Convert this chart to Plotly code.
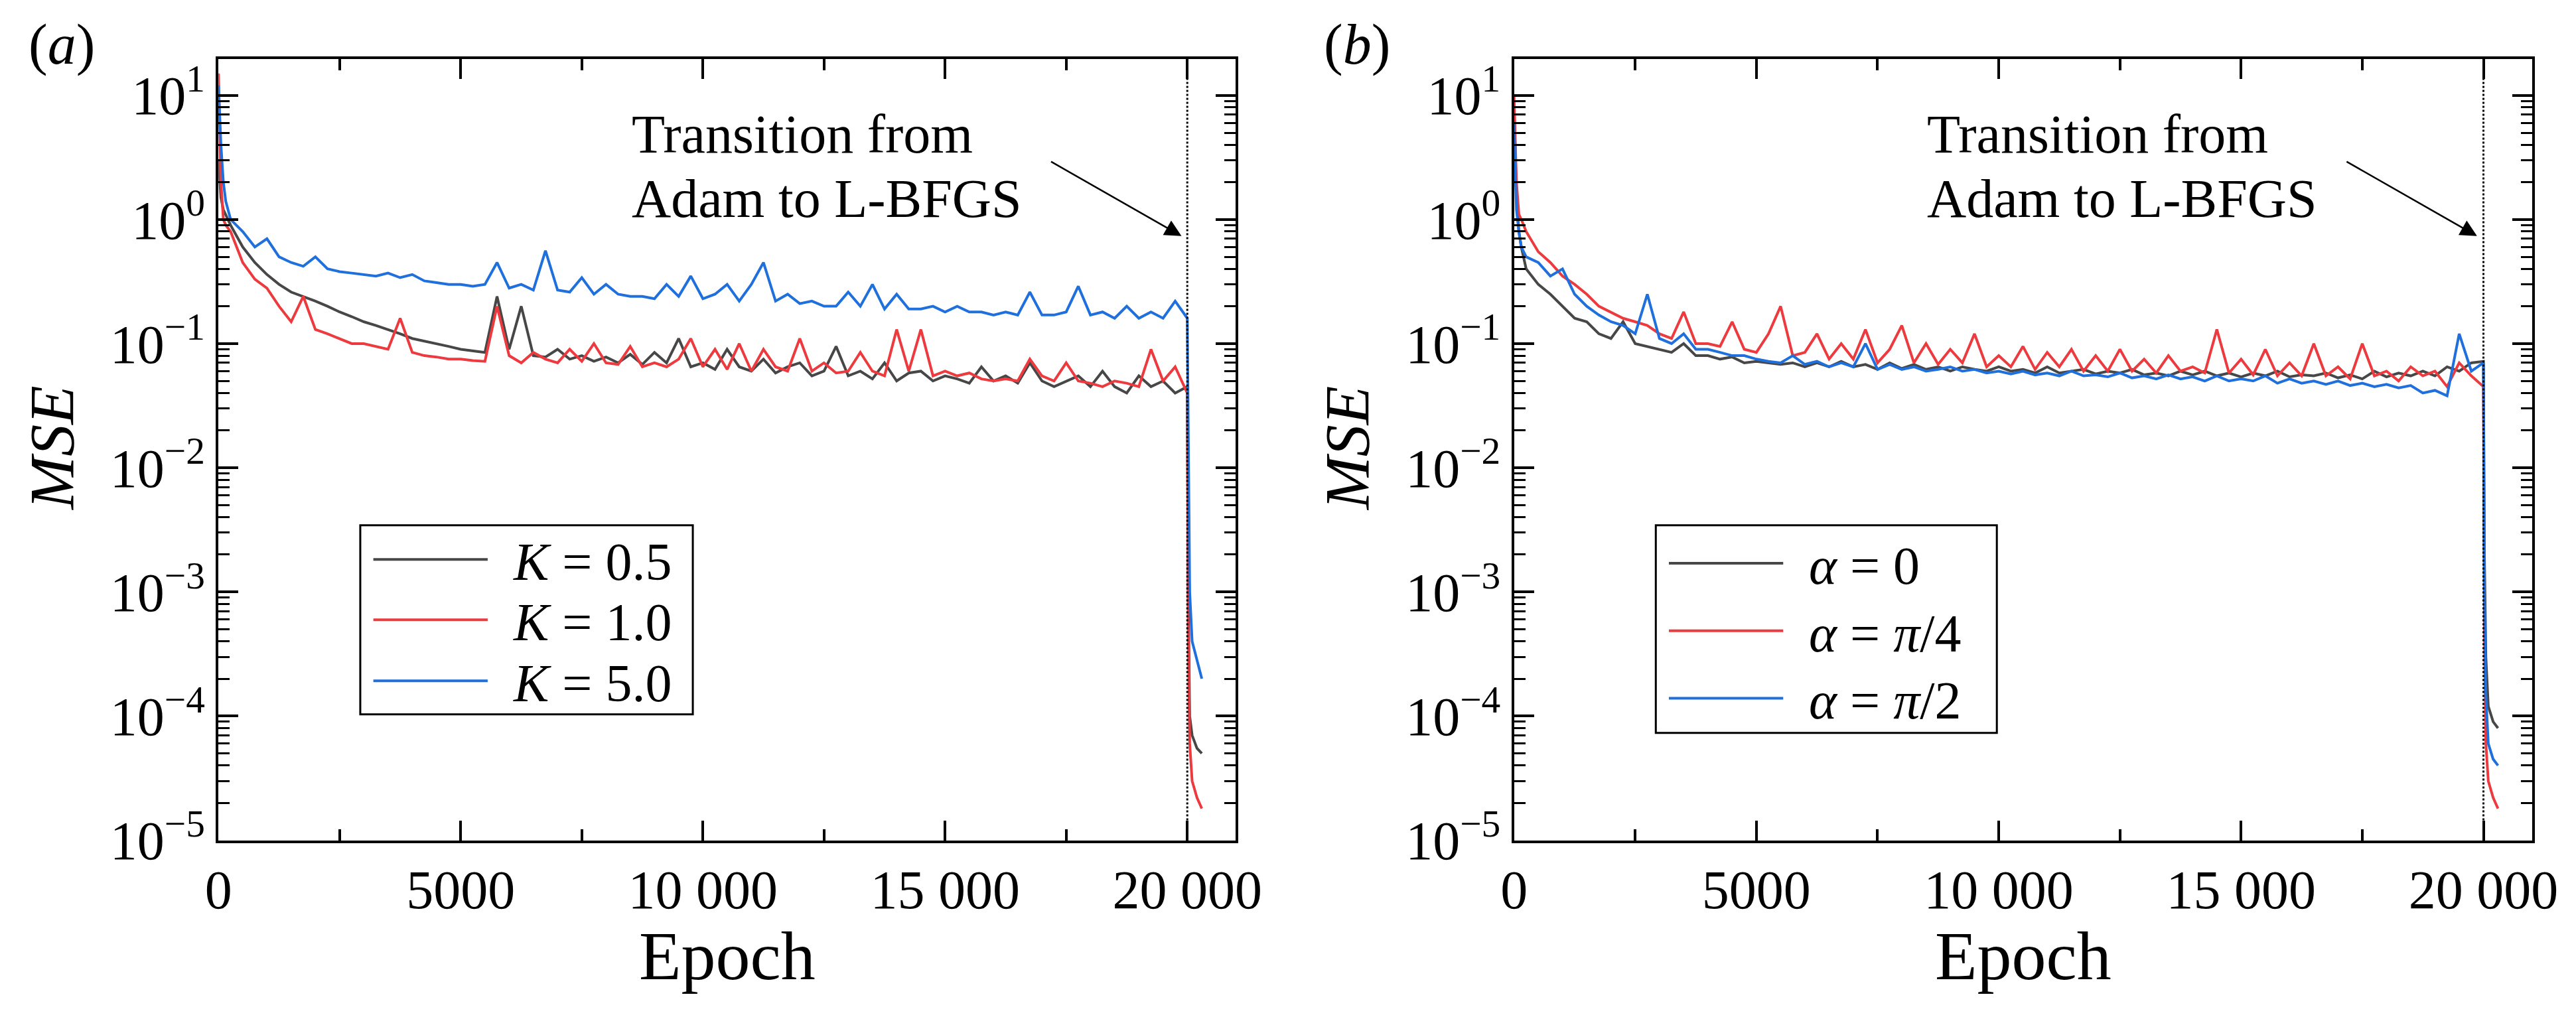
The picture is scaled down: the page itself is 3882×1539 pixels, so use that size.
import plotly.graph_objects as go
from plotly.subplots import make_subplots

# epochs: a few early points, then every 250 up to 20000, then the L-BFGS tail
early = [0, 50, 100, 150]
adam = list(range(250, 20001, 250))
tail = [20020, 20050, 20100, 20200, 20300]
epochs = early + adam + tail

# panel (a)
k05 = [3, 1.5, 1.2, 1.1,
       0.9, 0.6, 0.45, 0.36, 0.3, 0.26, 0.24, 0.22, 0.2, 0.18, 0.165, 0.15, 0.14, 0.13, 0.12, 0.11,
       0.105, 0.1, 0.095, 0.09, 0.088, 0.085, 0.24, 0.09, 0.2, 0.08, 0.078, 0.09, 0.075, 0.08,
       0.072, 0.078, 0.07, 0.082, 0.068, 0.085, 0.07, 0.11, 0.065, 0.07, 0.062, 0.09, 0.065, 0.06,
       0.075, 0.058, 0.065, 0.07, 0.055, 0.06, 0.095, 0.055, 0.06, 0.052, 0.07, 0.05, 0.058, 0.06,
       0.05, 0.055, 0.052, 0.048, 0.065, 0.05, 0.055, 0.048, 0.07, 0.05, 0.045, 0.05, 0.055, 0.045,
       0.06, 0.045, 0.04, 0.055, 0.045, 0.05, 0.04, 0.045,
       1e-3, 1e-4, 7e-5, 5.5e-5, 5e-5]
k10 = [15, 2, 1.0, 0.9,
       0.8, 0.45, 0.33, 0.28, 0.2, 0.15, 0.24, 0.13, 0.12, 0.11, 0.1, 0.1, 0.095, 0.09, 0.16, 0.085,
       0.08, 0.078, 0.075, 0.075, 0.073, 0.072, 0.2, 0.08, 0.07, 0.085, 0.075, 0.07, 0.09, 0.072,
       0.1, 0.07, 0.068, 0.095, 0.065, 0.07, 0.065, 0.075, 0.11, 0.065, 0.09, 0.062, 0.1, 0.06,
       0.09, 0.065, 0.06, 0.11, 0.06, 0.07, 0.058, 0.06, 0.085, 0.06, 0.055, 0.13, 0.06, 0.13,
       0.055, 0.06, 0.055, 0.058, 0.052, 0.05, 0.052, 0.05, 0.075, 0.055, 0.05, 0.07, 0.05, 0.048,
       0.045, 0.05, 0.048, 0.045, 0.09, 0.05, 0.065, 0.04,
       5e-4, 6e-5, 3e-5, 2.2e-5, 1.8e-5]
k50 = [12, 4, 2, 1.4,
       1.0, 0.8, 0.6, 0.7, 0.5, 0.45, 0.42, 0.5, 0.4, 0.38, 0.37, 0.36, 0.35, 0.37, 0.34, 0.36,
       0.32, 0.31, 0.3, 0.3, 0.29, 0.3, 0.45, 0.28, 0.3, 0.27, 0.56, 0.27, 0.26, 0.34, 0.25, 0.3,
       0.25, 0.24, 0.24, 0.23, 0.3, 0.24, 0.35, 0.23, 0.25, 0.3, 0.22, 0.3, 0.45, 0.22, 0.25, 0.21,
       0.22, 0.2, 0.2, 0.26, 0.2, 0.3, 0.19, 0.25, 0.19, 0.19, 0.2, 0.18, 0.2, 0.18, 0.18, 0.17,
       0.18, 0.17, 0.26, 0.17, 0.17, 0.18, 0.29, 0.17, 0.18, 0.16, 0.2, 0.16, 0.18, 0.16, 0.22, 0.16,
       1e-2, 1e-3, 4e-4, 2.8e-4, 2e-4]

# panel (b)
a0 = [8, 1.5, 0.8, 0.6,
      0.4, 0.3, 0.25, 0.2, 0.16, 0.15, 0.12, 0.11, 0.15, 0.1, 0.095, 0.09, 0.085, 0.1, 0.08, 0.08,
      0.075, 0.078, 0.07, 0.072, 0.07, 0.068, 0.07, 0.065, 0.07, 0.065, 0.072, 0.065, 0.068, 0.062,
      0.07, 0.063, 0.068, 0.062, 0.065, 0.06, 0.065, 0.062, 0.06, 0.065, 0.06, 0.062, 0.058, 0.065,
      0.058, 0.06, 0.062, 0.057, 0.06, 0.058, 0.062, 0.056, 0.058, 0.055, 0.06, 0.056, 0.06, 0.055,
      0.058, 0.054, 0.058, 0.055, 0.06, 0.054, 0.056, 0.055, 0.058, 0.053, 0.056, 0.052, 0.06, 0.054,
      0.058, 0.055, 0.06, 0.055, 0.065, 0.06, 0.07, 0.072,
      2e-3, 3e-4, 1.2e-4, 9e-5, 8e-5]
a_pi4 = [10, 2, 1.1, 1.0,
         0.8, 0.55, 0.45, 0.35, 0.3, 0.25, 0.2, 0.18, 0.16, 0.15, 0.14, 0.12, 0.11, 0.18, 0.1, 0.1,
         0.095, 0.15, 0.09, 0.085, 0.12, 0.2, 0.08, 0.085, 0.12, 0.075, 0.1, 0.075, 0.13, 0.07,
         0.09, 0.14, 0.07, 0.1, 0.068, 0.09, 0.07, 0.12, 0.065, 0.08, 0.065, 0.095, 0.062, 0.085,
         0.065, 0.09, 0.06, 0.08, 0.06, 0.09, 0.06, 0.075, 0.058, 0.08, 0.06, 0.065, 0.058, 0.13,
         0.058, 0.075, 0.056, 0.09, 0.055, 0.07, 0.055, 0.1, 0.055, 0.065, 0.052, 0.1, 0.055, 0.06,
         0.05, 0.065, 0.055, 0.06, 0.045, 0.07, 0.055, 0.045,
         5e-4, 6e-5, 3e-5, 2.2e-5, 1.8e-5]
a_pi2 = [6, 1.2, 0.8, 0.6,
         0.5, 0.45, 0.35, 0.4, 0.25, 0.2, 0.17, 0.15, 0.14, 0.12, 0.25, 0.11, 0.1, 0.12, 0.09, 0.09,
         0.085, 0.08, 0.08, 0.075, 0.072, 0.07, 0.08, 0.068, 0.072, 0.065, 0.07, 0.065, 0.1, 0.062,
         0.068, 0.062, 0.065, 0.06, 0.062, 0.065, 0.06, 0.062, 0.058, 0.06, 0.057, 0.06, 0.056, 0.058,
         0.055, 0.06, 0.055, 0.056, 0.054, 0.058, 0.053, 0.055, 0.052, 0.056, 0.052, 0.054, 0.05, 0.055,
         0.05, 0.052, 0.05, 0.055, 0.048, 0.052, 0.048, 0.05, 0.047, 0.05, 0.046, 0.048, 0.045, 0.047,
         0.044, 0.046, 0.04, 0.042, 0.038, 0.12, 0.06, 0.07,
         1e-3, 1.5e-4, 6e-5, 4.5e-5, 4e-5]

names_a = ["<i>K</i> = 0.5", "<i>K</i> = 1.0", "<i>K</i> = 5.0"]
names_b = ["<i>α</i> = 0", "<i>α</i> = <i>π</i>/4", "<i>α</i> = <i>π</i>/2"]
colors = ["#474747", "#ec3a3f", "#1f6fdc"]

FONT = "Liberation Serif, Times New Roman, serif"
W, H = 3882, 1539


def px(x):
    return x / W


def py(y):
    return 1 - y / H


fig = make_subplots(rows=1, cols=2)

for ys, nm, c in zip([k05, k10, k50], names_a, colors):
    fig.add_trace(go.Scatter(x=epochs, y=ys, name=nm, mode="lines", showlegend=False,
                             line=dict(color=c, width=4)), row=1, col=1)
for ys, nm, c in zip([a0, a_pi4, a_pi2], names_b, colors):
    fig.add_trace(go.Scatter(x=epochs, y=ys, name=nm, mode="lines", showlegend=False,
                             line=dict(color=c, width=4)), row=1, col=2)

ytv = [10.0 ** k for k in range(-5, 2)]
ytt = ["10<sup>%s</sup>" % (str(k).replace("-", "−")) for k in range(-5, 2)]
yminor = [m * 10.0 ** k for k in range(-6, 2) for m in range(2, 10)]

axis_common = dict(showline=True, linecolor="black", linewidth=4, mirror="allticks",
                   ticks="inside", ticklen=30, tickwidth=4, tickcolor="black",
                   showgrid=False, zeroline=False,
                   tickfont=dict(family=FONT, size=82, color="black"))

for col, dom in [(1, [px(305), px(1862)]), (2, [px(2288), px(3846)])]:
    fig.update_xaxes(axis_common, range=[0, 21000], domain=dom,
                     tickvals=[0, 5000, 10000, 15000, 20000],
                     ticktext=["0", "5000", "10 000", "15 000", "20 000"],
                     minor=dict(tickvals=[2500, 7500, 12500, 17500], ticks="inside",
                                ticklen=17, tickwidth=4, tickcolor="black"),
                     row=1, col=col)
    fig.update_yaxes(axis_common, type="log", range=[-5, 1.29], domain=[py(1298), py(83)],
                     tickvals=ytv, ticktext=ytt,
                     minor=dict(tickvals=yminor, ticks="inside",
                                ticklen=17, tickwidth=3, tickcolor="black"),
                     row=1, col=col)

    fig.add_shape(type="line", x0=20000, x1=20000, y0=0, y1=1,
                  xref="x" if col == 1 else "x2",
                  yref="y domain" if col == 1 else "y2 domain",
                  line=dict(color="black", width=3, dash="dot"))

off = 1983
legend_rows = [[861, 955, 1050], [867, 972, 1077]]
legend_box = [(522, 808, 1031, 1102), (2505, 808, 3027, 1131)]
for i, (lab, names) in enumerate([("(<i>a</i>)", names_a), ("(<i>b</i>)", names_b)]):
    dx = off * i
    fig.add_annotation(x=px(12 + dx), y=py(8), xref="paper", yref="paper", text=lab,
                       showarrow=False, xanchor="left", yanchor="top",
                       font=dict(family=FONT, size=86, color="black"))
    fig.add_annotation(x=px(1084 + dx), y=py(1478), xref="paper", yref="paper", text="Epoch",
                       showarrow=False, xanchor="center", yanchor="middle",
                       font=dict(family=FONT, size=104, color="black"))
    fig.add_annotation(x=px(50 + dx), y=py(688), xref="paper", yref="paper", text="<i>MSE</i>",
                       showarrow=False, textangle=-90, xanchor="center", yanchor="middle",
                       font=dict(family=FONT, size=96, color="black"))
    for txt, yy in [("Transition from", 200), ("Adam to L-BFGS", 300)]:
        fig.add_annotation(x=px(935 + dx), y=py(yy), xref="paper", yref="paper",
                           text=txt, showarrow=False, xanchor="left", yanchor="middle",
                           font=dict(family=FONT, size=82, color="black"))
    fig.add_annotation(x=px(1779 + dx), y=py(358), xref="paper", yref="paper", text="",
                       ax=-198, ay=-113, showarrow=True, arrowhead=2, arrowsize=2,
                       arrowwidth=2.5, arrowcolor="black")

    # legend box drawn by hand so the line samples match the reference length
    x0, y0, x1, y1 = legend_box[i]
    fig.add_shape(type="rect", xref="paper", yref="paper",
                  x0=px(x0), x1=px(x1), y0=py(y0), y1=py(y1),
                  line=dict(color="black", width=3), fillcolor="white", layer="above")
    for nm, c, ry in zip(names, colors, legend_rows[i]):
        fig.add_shape(type="line", xref="paper", yref="paper",
                      x0=px(x0 + 20), x1=px(x0 + 195), y0=py(ry), y1=py(ry),
                      line=dict(color=c, width=4), layer="above")
        fig.add_annotation(x=px(x0 + 232), y=py(ry + 4), xref="paper", yref="paper",
                           text=nm, showarrow=False, xanchor="left", yanchor="middle",
                           font=dict(family=FONT, size=80, color="black"))

fig.update_layout(
    width=W, height=H,
    margin=dict(l=0, r=0, t=0, b=0),
    paper_bgcolor="white", plot_bgcolor="white",
)

fig.write_html("out.html")
